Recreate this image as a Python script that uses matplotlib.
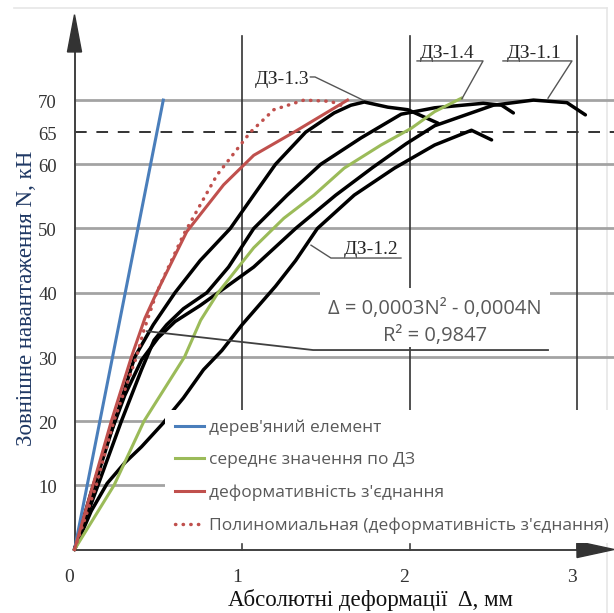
import matplotlib.pyplot as plt
from matplotlib.lines import Line2D
from matplotlib.patches import Polygon, Rectangle

# values: deformation, mm / load, kN
wood_d = [0, 0.53]
wood_n = [0, 70]

avg_d = [0, 0.236, 0.415, 0.657, 0.753, 0.857, 1.07, 1.25, 1.43, 1.61, 1.83, 2.01, 2.15, 2.31]
avg_n = [0, 10, 20, 30, 35.7, 40, 47, 51.6, 55.2, 59.4, 63, 65.6, 68.2, 70.3]

joint_d = [0, 0.11, 0.22, 0.34, 0.42, 0.49, 0.67, 0.89, 1.07, 1.31, 1.63]
joint_n = [0, 10, 20, 30, 36, 40, 49.5, 56.8, 61.4, 65, 70]

poly_d = [0, 0.13, 0.235, 0.37, 0.415, 0.49, 0.65, 0.85, 1.05, 1.19, 1.37, 1.53, 1.61]
poly_n = [0, 10, 20, 30, 34.2, 40, 49, 58.3, 65.0, 68.5, 70, 69.8, 69.0]

dz11_d = [0, 0.1, 0.2, 0.3, 0.4, 0.5, 0.6, 0.75, 0.9, 1.07, 1.32, 1.56, 1.78, 1.98, 2.15, 2.5, 2.74, 2.94, 3.05]
dz11_n = [0, 9, 17, 24, 29.5, 33, 35.5, 38, 40.8, 44.0, 50, 55.2, 59.5, 63.2, 66.0, 69.2, 70, 69.6, 67.7]

dz12_d = [0, 0.1, 0.195, 0.3, 0.4, 0.53, 0.59, 0.65, 0.77, 0.88, 1.0, 1.1, 1.2, 1.32, 1.45, 1.67, 1.91, 2.15, 2.37, 2.49]
dz12_n = [0, 6, 10.3, 13.5, 16, 19.7, 21.7, 23.6, 28, 31, 35, 38, 41, 45, 50, 55.2, 59.4, 63, 65.3, 63.8]

dz13_d = [0, 0.12, 0.24, 0.36, 0.47, 0.6, 0.75, 0.93, 1.07, 1.2, 1.38, 1.55, 1.65, 1.73, 1.87, 1.99, 2.17]
dz13_n = [0, 10, 20, 30, 35, 40, 45, 50, 55.2, 60, 65, 68, 69.2, 69.7, 68.9, 68.5, 66.4]

dz14_d = [0, 0.14, 0.28, 0.4, 0.475, 0.55, 0.65, 0.79, 0.92, 1.07, 1.27, 1.47, 1.71, 1.95, 2.15, 2.44, 2.55, 2.62]
dz14_n = [0, 10, 20, 28, 32.6, 35, 37.5, 40, 44, 50, 55.2, 60, 64.1, 67.8, 68.8, 69.5, 69.2, 68]

grid_n = [10, 20, 30, 40, 50, 60, 70]
ytick_n = [10, 20, 30, 40, 50, 60, 65, 70]
xtick_d = [0, 1, 2, 3]
limit_n = 65

legend_labels = ["дерев'яний елемент", "середнє значення по ДЗ",
                 "деформативність з'єднання",
                 "Полиномиальная (деформативність з'єднання)"]

BLUE, GREEN, RED = '#4a7ebb', '#9bbb59', '#c0504d'
serif = ['Liberation Serif', 'DejaVu Serif']
sans = ['Open Sans', 'DejaVu Sans']

fig = plt.figure(figsize=(6.14, 6.13), dpi=100)
ax = fig.add_axes([0, 0, 1, 1])
ax.set_xlim(-0.4448, 3.2209)
ax.set_ylim(-9.89, 85.59)
ax.axis('off')

# faint frame of the source image
ax.plot([-0.36, 3.18], [84.35, 84.35], color='#e6e6e6', lw=1.2, zorder=0)
ax.plot([3.18, 3.18], [-9.9, 84.35], color='#e6e6e6', lw=1.2, zorder=0)

# grid
for n in grid_n:
    ax.plot([0, 3.22], [n, n], color='#a3a3a3', lw=2, zorder=1)
ax.plot([0, 3.22], [limit_n, limit_n], color='#333333', lw=1.4, ls=(0, (6, 5)), zorder=1)
for d in [1, 2, 3]:
    ax.plot([d, d], [21.5, 80], color='#333333', lw=1.2, zorder=1)

# axes with arrows
ax.plot([0, 3.05], [0, 0], color='#404040', lw=1.4, zorder=2)
ax.plot([0, 0], [0, 78], color='#404040', lw=1.4, zorder=2)
ax.add_patch(Polygon([[3.0, 1.25], [3.0, -1.25], [3.221, 0]], closed=True, color='#333333', zorder=3))
ax.add_patch(Polygon([[-0.042, 77.5], [0.042, 77.5], [0, 83.3]], closed=True, color='#333333', zorder=3))
for d in xtick_d[1:]:
    ax.plot([d, d], [0, 0.9], color='#404040', lw=1.2, zorder=2)

for n in ytick_n:
    ax.text(-0.105, n - 0.5, str(n), ha='right', va='center', fontsize=13.5,
            family=serif, color='#333333')
for d in xtick_d:
    ax.text(d - 0.03, -4.4, str(d), ha='center', va='center', fontsize=14,
            family=serif, color='#333333')

ax.text(-0.284, 39.2, 'Зовнішне навантаження N, кН', rotation=90, ha='center', va='center',
        fontsize=16.5, family=serif, color='#1f3864')
ax.text(1.764, -7.9, 'Абсолютні деформації  Δ, мм', ha='center', va='center',
        fontsize=16.5, family=serif, color='#111111')

# curves
for d, n in [(dz11_d, dz11_n), (dz12_d, dz12_n), (dz13_d, dz13_n), (dz14_d, dz14_n)]:
    ax.plot(d, n, color='black', lw=2.5, solid_joinstyle='round', solid_capstyle='round', zorder=4)
ax.plot(wood_d, wood_n, color=BLUE, lw=2.2, zorder=5)
ax.plot(avg_d, avg_n, color=GREEN, lw=2.2, zorder=5)
ax.plot(joint_d, joint_n, color=RED, lw=2.2, zorder=5)
ax.plot(poly_d, poly_n, color=RED, lw=2.5, ls=(0, (0.1, 2.1)), dash_capstyle='round', zorder=5)

# labels of the specimens
lead = dict(color='#555555', lw=1.0, zorder=6)
lab = dict(fontsize=14, family=serif, color='#262626', va='center', zorder=6)
ax.text(1.405, 73.2, 'ДЗ-1.3', ha='right', **lab)
ax.plot([1.408, 1.436, 1.722], [73.6, 73.6, 70.0], **lead)
ax.text(2.225, 77.3, 'ДЗ-1.4', ha='center', **lab)
ax.plot([2.045, 2.439, 2.313], [76.1, 76.1, 70.2], **lead)
ax.text(2.745, 77.3, 'ДЗ-1.1', ha='center', **lab)
ax.plot([2.558, 2.97, 2.827], [76.1, 76.1, 70.3], **lead)
ax.text(1.77, 46.7, 'ДЗ-1.2', ha='center', **lab)
ax.plot([1.412, 1.531, 1.949], [47.4, 45.4, 45.4], **lead)

# trendline equation
ax.add_patch(Rectangle((1.466, 31.6), 1.373, 9.1, facecolor='white', edgecolor='none', zorder=6))
ax.plot([0.433, 1.424, 2.827], [34.0, 31.07, 31.07], color='#404040', lw=1.3, zorder=7)
ax.text(2.152, 37.4, 'Δ = 0,0003N² - 0,0004N', ha='center', va='center', fontsize=14.5,
        family=sans, color='#595959', zorder=7)
ax.text(2.152, 33.3, 'R² = 0,9847', ha='center', va='center', fontsize=14.5,
        family=sans, color='#595959', zorder=7)

handles = [Line2D([], [], color=BLUE, lw=2.2),
           Line2D([], [], color=GREEN, lw=2.2),
           Line2D([], [], color=RED, lw=2.2),
           Line2D([], [], color=RED, lw=2.5, ls=(0, (0.1, 2.1)), dash_capstyle='round')]
leg = ax.legend(handles, legend_labels, loc='upper left', bbox_to_anchor=(165 / 614, 1 - 410 / 613),
                bbox_transform=fig.transFigure, frameon=True, fancybox=False, framealpha=1,
                facecolor='white', edgecolor='none', borderaxespad=0, borderpad=0.55,
                handlelength=1.7, handletextpad=0.3, labelspacing=0.93,
                prop={'family': sans, 'size': 12.5}, labelcolor='#595959')
leg.set_zorder(10)

fig.savefig('out.png', dpi=100, facecolor='white')
